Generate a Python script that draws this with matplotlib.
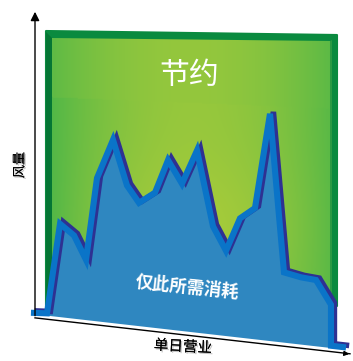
import numpy as np
import matplotlib.pyplot as plt
from matplotlib.patches import Polygon
from matplotlib.transforms import Affine2D
import matplotlib.patheffects as pe

plt.rcParams['font.family'] = ['Noto Sans CJK SC', 'DejaVu Sans']

# days along the slanted bottom axis, airflow measured up from that axis
days = [-2, 11, 24, 38, 50, 61, 77, 91, 103, 119, 132, 146, 161,
        177, 190, 204, 219, 234, 248, 265, 280, 295, 295, 307]
airflow = [2, 3, 94, 84, 61, 144, 184, 140, 124, 136, 170, 148, 183,
           109, 86, 120, 132, 228, 71, 68, 67, 44, 3, 3]

title_text = '节约'
area_text = '仅此所需消耗'
x_label = '单日营业'
y_label = '风量'

W, H = 353, 361
fig = plt.figure(figsize=(W / 100, H / 100), dpi=100)
ax = fig.add_axes([0, 0, 1, 1])
ax.set_xlim(0, W)
ax.set_ylim(H, 0)
ax.axis('off')

# perspective: the baseline drops to the right
skew = Affine2D.from_values(1, 0.114, 0, -1, 37, 314.5) + ax.transData

# green panel behind the data
outer = Polygon([(46, 31), (337, 35), (337, 306), (46, 307)],
                closed=True, fc='#0a8a3f', ec='#0a8a3f', lw=1.5,
                joinstyle='round', zorder=1)
ax.add_patch(outer)
ax.add_patch(Polygon([(46, 32), (52, 38), (52, 307), (46, 307)],
                     closed=True, fc='#057634', ec='none', zorder=2))
ax.add_patch(Polygon([(330, 41), (332, 40), (332, 306), (330, 306)],
                     closed=True, fc='#2b9a44', ec='none', zorder=2))
inner = Polygon([(52, 38), (330, 41), (330, 307), (52, 307)],
                closed=True, fc='none', ec='none', zorder=2)
ax.add_patch(inner)

gx, gy = np.meshgrid(np.linspace(52, 330, 280), np.linspace(38, 307, 270))
h_top = np.clip(1 - ((gx - 190) / 160) ** 2, 0, 1)
h_low = np.clip(1 - ((gx - 195) / 150) ** 2, 0, 1)
band = gy < 97 + 0.04 * (gx - 52)
t_low = h_low * (0.82 + 0.18 * np.exp(-((gy - 230) / 70) ** 2))
t = np.where(band, 0.8 * h_top, t_low)
c0 = np.array([0x4c, 0xb6, 0x48]) / 255
c1 = np.array([0xa6, 0xcb, 0x3a]) / 255
img = c0 + (c1 - c0) * t[..., None]
im = ax.imshow(img, extent=(52, 330, 307, 38), aspect='auto', zorder=2,
               interpolation='bilinear')
im.set_clip_path(inner)
ax.set_xlim(0, W)
ax.set_ylim(H, 0)

# area under the airflow line
ax.fill(days + [days[-1], days[0]], airflow + [0, 0], color='#2f87c0',
        lw=0, transform=skew, zorder=3)
navy = Affine2D().translate(2.4, 1.3)
bright = Affine2D().translate(-1, -0.6)
ax.plot(days, airflow, color='#2e3192', lw=4.0, solid_joinstyle='miter',
        transform=skew + navy, zorder=4)
ax.plot(days, airflow, color='#0a74c8', lw=4.4, solid_joinstyle='miter',
        transform=skew + bright, zorder=5)

# axes
ax.plot([-2, 313], [-3.6, -3.6], color='black', lw=1, transform=skew, zorder=6)
ax.annotate('', xy=(352, 354.3), xytext=(344, 353.4),
            arrowprops=dict(arrowstyle='-|>', color='black', lw=1,
                            mutation_scale=7), zorder=6)
ax.annotate('', xy=(35, 9), xytext=(35, 318.5),
            arrowprops=dict(arrowstyle='-|>', color='black', lw=1,
                            mutation_scale=13), zorder=6)

shadow = [pe.withSimplePatchShadow(offset=(1, -1), shadow_rgbFace='#888888',
                                   alpha=0.5), pe.Normal()]

ax.text(189, 76, title_text, color='white', fontsize=21.5, ha='center',
        va='center', zorder=7)
ax.text(187, 287, area_text, color='white', fontsize=12.5,
        fontweight='bold', ha='center', va='center', rotation=-6, zorder=7)
ax.text(183, 347, x_label, color='black', fontsize=10.5, ha='center',
        va='center', rotation=-3, zorder=7, path_effects=shadow)
ax.text(20, 165, y_label, color='black', fontsize=9.5, ha='center',
        va='center', rotation=90, zorder=7, path_effects=shadow)

fig.savefig('out.png', dpi=100)
